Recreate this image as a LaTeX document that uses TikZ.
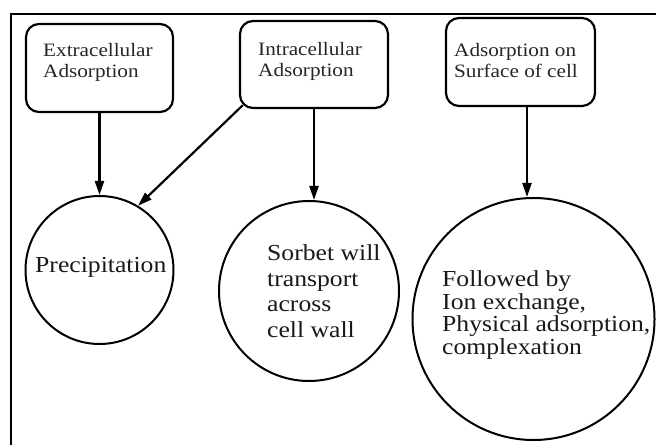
\documentclass[tikz,border=0pt]{standalone}
\usepackage{fontspec}
\setmainfont{Liberation Serif}[FakeStretch=1.12]
\usetikzlibrary{arrows.meta}
\begin{document}
\begin{tikzpicture}[x=1bp,y=-1bp,
  boxnode/.style={draw, line width=2.2bp, rounded corners=13bp, rectangle, inner sep=0pt},
  circnode/.style={draw, line width=2bp, circle, inner sep=0pt},
  boxtext/.style={anchor=north west, inner sep=0pt, align=left, text=black!85,
    font=\fontsize{19}{21}\selectfont},
  circtext/.style={anchor=north west, inner sep=0pt, align=left, text=black!90},
  arr/.style={line width=2.2bp, -{Triangle[length=14bp,width=9bp]}}]
\useasboundingbox (0,0) rectangle (656,445);
% frame
\draw[line width=2.6bp] (11,450) -- (11,14) -- (660,14);
% boxes
\node[boxnode, minimum width=147bp, minimum height=88bp] (box1) at (99.5,68) {};
\node[boxnode, minimum width=148bp, minimum height=87bp] (box2) at (314,64.5) {};
\node[boxnode, minimum width=149bp, minimum height=88bp] (box3) at (520.5,62) {};
\node[boxtext] (t1) at (43,43) {Extracellular\\Adsorption};
\node[boxtext] (t2) at (258,42) {Intracellular\\Adsorption};
\node[boxtext] (t3) at (454,43) {Adsorption on\\Surface of cell};
% circles
\node[circnode, minimum size=148bp] (c1) at (99.5,270) {};
\node[circnode, minimum size=180bp] (c2) at (309,291) {};
\node[circnode, minimum size=242bp] (c3) at (533.5,319) {};
\node[circtext, font=\fontsize{23}{26}\selectfont] (ct1) at (35,257) {Precipitation};
\node[circtext, font=\fontsize{23}{26}\selectfont] (ct2) at (267,244) {Sorbet will\\transport\\across\\cell wall};
\node[circtext, font=\fontsize{23}{23}\selectfont] (ct3) at (442,270) {Followed by\\Ion exchange,\\Physical adsorption,\\complexation};
% connectors
\coordinate (s2) at ([shift={(3.8,-3.8)}]box2.south west);
\coordinate (s4) at ([xshift=6.5bp]box3.south);
\draw[arr] (box1.south) -- (c1.north);
\draw[arr] (s2) -- (c1.59);
\draw[arr] (box2.south) -- (box2.south |- c2.north);
\draw[arr] (s4) -- (s4 |- c3.north);
\end{tikzpicture}
\end{document}
